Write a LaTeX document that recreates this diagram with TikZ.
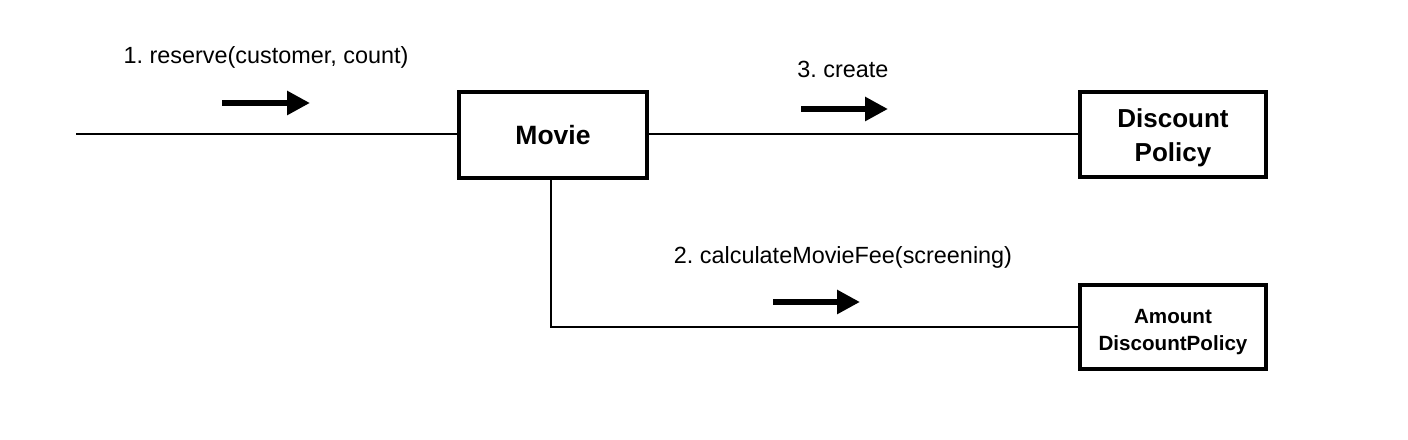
\documentclass[tikz,border=0pt]{standalone}
\usepackage{fontspec}
\setmainfont{Liberation Sans}
\usetikzlibrary{arrows.meta}
\frenchspacing
\begin{document}
\begin{tikzpicture}[x=1pt,y=1pt,
  obj/.style={draw, line width=3.5pt, align=center, inner sep=0pt, fill=white},
  conn/.style={line width=2.5pt},
  msg/.style={line width=6pt, -{Triangle[length=23pt,width=23pt]}},
  lbl/.style={font=\fontsize{23.4}{28}\selectfont, inner sep=0pt}]
\useasboundingbox (0,0) rectangle (1408,439);
\node[obj, minimum width=188pt, minimum height=86pt, font=\fontsize{26.5}{34}\selectfont\bfseries] (movie) at (553,304) {Movie};
\node[obj, minimum width=186pt, minimum height=85pt, font=\fontsize{26}{34}\selectfont\bfseries] (disc) at (1173,304.5) {\rule{0pt}{25pt}Discount\\Policy};
\node[obj, minimum width=186pt, minimum height=84pt, font=\fontsize{20.6}{27}\selectfont\bfseries] (amount) at (1173,112) {\rule{0pt}{24pt}Amount\\DiscountPolicy};
\coordinate (start) at (76,305);
\draw[conn] (start) -- (movie.west |- start);
\draw[conn] (movie.east |- start) -- (disc.west |- start);
\draw[conn] (551,261) |- (amount.west);
\node[lbl] (l1) at (266,382) {1. reserve(customer, count)};
\node[lbl] (l3) at (843,370) {3. create};
\node[lbl] (l2) at (843,182) {2. calculateMovieFee(screening)};
\coordinate (a1s) at (222,336); \coordinate (a1e) at (310,336);
\coordinate (a3s) at (801,330); \coordinate (a3e) at (888,330);
\coordinate (a2s) at (773,137); \coordinate (a2e) at (860,137);
\draw[msg] (a1s) -- (a1e);
\draw[msg] (a3s) -- (a3e);
\draw[msg] (a2s) -- (a2e);
\end{tikzpicture}
\end{document}
